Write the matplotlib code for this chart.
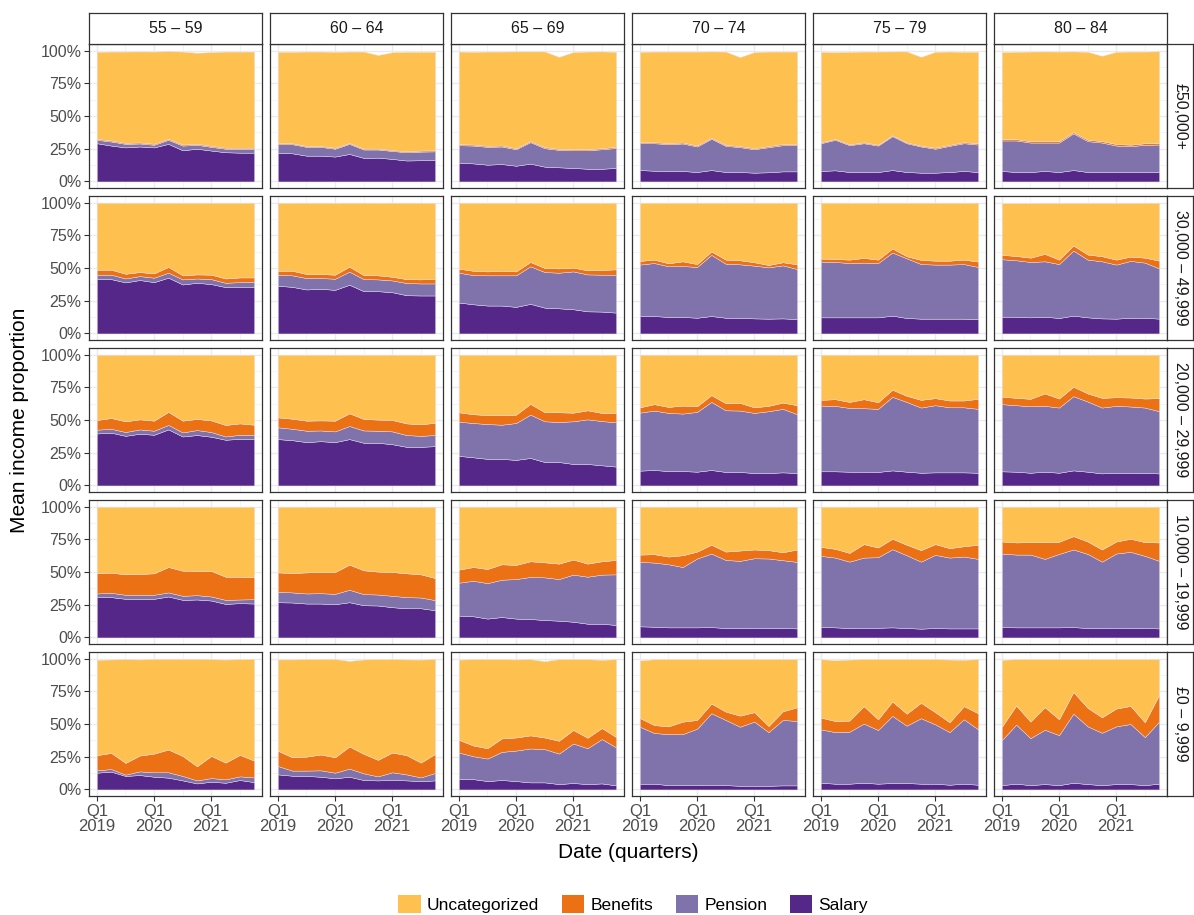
import matplotlib.pyplot as plt
from matplotlib.patches import Patch
import numpy as np

plt.rcParams['font.family'] = ['Liberation Sans', 'DejaVu Sans']

quarters = np.arange(12)
tick_pos = [0, 4, 8]
tick_labels = ['Q1\n2019', 'Q1\n2020', 'Q1\n2021']
age_groups = ['55 – 59', '60 – 64', '65 – 69', '70 – 74', '75 – 79', '80 – 84']
income_bands = ['£50,000+', '30,000 – 49,999', '20,000 – 29,999',
                '10,000 – 19,999', '£0 – 9,999']
series_names = ['Uncategorized', 'Benefits', 'Pension', 'Salary']
colors = {'Uncategorized': '#FEC150', 'Benefits': '#EC7014',
          'Pension': '#8073AC', 'Salary': '#542788'}

# cumulative stack levels (%), one list per age group
# --- £50,000+ ---
salary_top_50k = [
    [29.2, 27.4, 26.0, 26.7, 26.0, 28.7, 23.8, 25.0, 23.6, 22.3, 22.0, 22.0],
    [22.0, 21.5, 19.7, 19.7, 19.0, 21.0, 18.0, 18.2, 17.2, 16.0, 16.2, 16.4],
    [14.4, 13.8, 12.8, 13.3, 12.0, 13.6, 11.3, 10.8, 10.3, 9.7, 9.7, 10.3],
    [8.7, 8.2, 8.0, 8.0, 7.2, 8.7, 7.2, 7.2, 6.7, 7.0, 7.7, 7.7],
    [8.0, 8.5, 7.2, 7.2, 7.2, 8.7, 7.2, 6.7, 6.7, 7.2, 8.0, 7.2],
    [8.0, 7.2, 7.2, 8.0, 7.2, 8.7, 7.2, 7.2, 7.2, 7.2, 7.2, 7.2],
]
pension_top_50k = [
    [31.8, 30.5, 28.7, 29.0, 28.0, 31.8, 27.4, 28.0, 26.4, 25.0, 25.0, 25.0],
    [28.5, 28.5, 26.4, 26.4, 25.0, 28.7, 24.4, 24.4, 23.3, 22.3, 22.8, 23.0],
    [27.7, 27.4, 26.4, 26.7, 24.6, 30.0, 25.4, 24.1, 23.8, 23.8, 24.6, 25.6],
    [29.2, 29.2, 28.5, 29.0, 26.7, 32.6, 27.2, 26.2, 24.6, 26.2, 27.7, 27.7],
    [29.2, 31.8, 27.7, 29.2, 27.4, 34.6, 29.2, 26.7, 25.0, 27.2, 29.2, 28.2],
    [31.3, 31.3, 29.7, 29.7, 29.7, 36.7, 30.8, 29.7, 27.4, 26.9, 28.0, 28.2],
]
benefits_top_50k = [
    [32.6, 31.3, 29.5, 29.8, 28.8, 32.6, 28.2, 28.8, 27.2, 25.8, 25.8, 25.8],
    [29.2, 29.2, 27.1, 27.1, 25.7, 29.4, 25.1, 25.1, 24.0, 23.0, 23.6, 23.8],
    [28.5, 28.2, 27.2, 27.5, 25.4, 30.8, 26.2, 24.9, 24.6, 24.6, 25.4, 26.5],
    [30.0, 30.0, 29.3, 29.8, 27.5, 33.4, 28.0, 27.0, 25.4, 27.0, 28.6, 28.7],
    [29.9, 32.5, 28.4, 29.9, 28.1, 35.3, 29.9, 27.4, 25.8, 28.0, 30.0, 29.1],
    [32.2, 32.3, 30.7, 30.8, 30.8, 37.7, 31.9, 30.8, 28.6, 28.1, 29.2, 29.4],
]
total_50k = [
    [99.0, 99.2, 99.2, 99.3, 99.2, 99.5, 99.2, 98.3, 98.8, 99.2, 99.2, 99.2],
    [99.0, 99.0, 99.2, 99.2, 99.0, 99.2, 99.2, 96.6, 98.7, 99.0, 99.0, 99.0],
    [99.2, 99.0, 99.2, 99.2, 99.3, 99.3, 99.3, 95.2, 98.8, 99.2, 99.3, 99.0],
    [99.0, 99.2, 99.2, 99.2, 99.2, 99.3, 99.2, 95.0, 98.8, 99.2, 99.2, 99.2],
    [99.0, 98.8, 99.0, 99.2, 99.2, 99.3, 99.3, 95.2, 99.0, 99.2, 99.0, 99.0],
    [98.8, 99.0, 99.2, 99.3, 99.2, 99.3, 99.0, 96.0, 99.0, 99.2, 99.2, 99.4],
]

# --- 30,000 - 49,999 ---
salary_top_30k = [
    [41.8, 41.5, 39.0, 40.8, 39.2, 42.6, 37.4, 38.7, 37.7, 35.4, 35.4, 35.4],
    [36.4, 35.6, 33.6, 34.1, 33.3, 37.2, 32.3, 32.3, 31.5, 29.2, 29.0, 29.0],
    [23.6, 22.3, 21.3, 21.3, 20.3, 22.6, 19.7, 19.2, 18.5, 16.9, 16.7, 15.9],
    [13.6, 13.3, 12.6, 12.6, 12.0, 13.3, 12.0, 12.0, 11.5, 11.3, 11.5, 11.0],
    [12.3, 12.3, 12.3, 12.3, 12.3, 13.6, 11.8, 11.3, 11.3, 11.3, 11.3, 11.0],
    [12.8, 12.8, 12.3, 12.8, 11.8, 13.6, 12.3, 11.5, 11.3, 12.0, 12.0, 11.3],
]
pension_top_30k = [
    [44.9, 44.9, 42.0, 43.8, 42.6, 46.4, 41.3, 42.0, 41.5, 38.7, 39.2, 39.5],
    [44.9, 44.4, 42.3, 42.3, 41.8, 47.2, 41.5, 41.3, 40.5, 38.5, 38.2, 38.2],
    [46.4, 44.6, 44.4, 44.4, 44.4, 51.3, 46.9, 46.4, 47.4, 45.1, 44.9, 44.9],
    [52.6, 53.8, 51.3, 51.5, 50.8, 60.0, 53.3, 52.8, 51.8, 50.5, 52.0, 49.2],
    [54.9, 54.6, 53.8, 54.1, 53.8, 61.8, 57.4, 53.0, 52.6, 52.6, 53.0, 50.8],
    [56.7, 55.9, 54.6, 55.1, 53.0, 63.3, 56.4, 55.1, 52.6, 55.4, 54.1, 49.7],
]
benefits_top_30k = [
    [48.7, 48.7, 45.6, 46.9, 45.9, 50.8, 44.4, 45.1, 44.9, 42.0, 42.8, 42.8],
    [47.9, 47.9, 45.4, 45.4, 44.9, 51.0, 44.6, 44.4, 43.3, 41.5, 41.3, 41.8],
    [49.5, 47.9, 47.4, 47.9, 47.4, 54.6, 50.0, 49.7, 50.3, 48.2, 48.5, 49.0],
    [55.4, 56.4, 53.6, 55.1, 53.0, 62.6, 56.4, 55.9, 54.4, 52.3, 54.4, 52.8],
    [57.2, 56.9, 56.4, 57.7, 56.4, 64.9, 59.0, 56.2, 55.6, 55.6, 56.4, 54.9],
    [60.0, 59.2, 57.9, 60.8, 56.4, 67.2, 60.3, 59.0, 56.4, 58.7, 57.9, 55.6],
]
total_30k = [
    [99.8, 99.8, 99.8, 99.8, 99.8, 99.8, 99.8, 99.8, 99.8, 99.8, 99.8, 99.8],
    [99.7, 99.7, 99.8, 99.8, 99.7, 99.8, 99.8, 99.7, 99.8, 99.8, 99.7, 99.7],
    [99.8, 99.8, 99.8, 99.8, 99.8, 99.8, 99.7, 99.8, 99.8, 99.8, 99.8, 99.8],
    [99.7, 99.8, 99.8, 99.8, 99.8, 99.8, 99.8, 99.8, 99.7, 99.8, 99.8, 99.8],
    [99.8, 99.8, 99.8, 99.8, 99.8, 99.8, 99.8, 99.8, 99.8, 99.8, 99.8, 99.8],
    [99.4, 99.5, 99.5, 99.6, 99.6, 99.6, 99.6, 99.6, 99.6, 99.6, 99.7, 99.7],
]

# --- 20,000 - 29,999 ---
salary_top_20k = [
    [39.7, 40.3, 37.9, 39.5, 38.7, 42.8, 37.4, 38.5, 37.2, 34.9, 35.6, 35.6],
    [35.4, 34.6, 33.1, 33.8, 33.1, 35.4, 32.6, 32.6, 31.5, 29.5, 29.5, 30.0],
    [22.6, 21.5, 20.3, 20.3, 19.5, 21.0, 17.9, 17.9, 16.4, 16.4, 15.4, 14.4],
    [11.3, 11.8, 11.0, 11.0, 10.5, 11.8, 10.3, 10.3, 9.5, 9.5, 10.0, 9.5],
    [10.8, 10.8, 10.5, 10.5, 10.3, 11.5, 10.5, 9.7, 10.0, 10.0, 10.0, 9.7],
    [10.8, 10.5, 9.7, 10.5, 9.7, 11.5, 10.5, 9.2, 9.7, 9.7, 9.5, 9.2],
]
pension_top_20k = [
    [42.6, 43.3, 40.8, 42.8, 41.8, 46.2, 40.5, 42.3, 40.8, 37.4, 38.7, 38.7],
    [44.4, 43.3, 41.8, 42.0, 41.3, 45.4, 42.0, 41.8, 41.3, 38.5, 37.9, 38.5],
    [48.7, 47.7, 46.9, 46.4, 47.7, 54.1, 49.0, 48.5, 49.0, 50.5, 49.2, 48.2],
    [55.6, 57.2, 55.4, 54.9, 56.2, 63.8, 57.4, 57.2, 55.4, 56.7, 58.5, 54.4],
    [61.0, 60.8, 59.2, 59.0, 58.5, 67.7, 63.8, 59.5, 61.3, 59.7, 59.7, 58.5],
    [62.1, 61.3, 60.5, 60.8, 59.5, 68.2, 64.1, 59.5, 60.8, 60.3, 59.5, 56.7],
]
benefits_top_20k = [
    [50.0, 51.5, 49.0, 50.5, 49.5, 56.2, 49.5, 50.8, 49.7, 46.2, 47.4, 46.4],
    [52.0, 51.0, 49.5, 49.7, 49.5, 55.1, 50.8, 50.3, 50.0, 47.4, 46.7, 47.9],
    [55.9, 54.4, 53.8, 53.6, 54.1, 62.3, 55.9, 55.9, 55.6, 57.4, 55.4, 55.4],
    [59.7, 62.1, 60.0, 61.0, 60.5, 69.0, 62.8, 63.1, 59.7, 60.8, 63.3, 61.3],
    [65.4, 65.9, 63.8, 65.9, 63.6, 73.1, 68.5, 65.4, 66.7, 64.9, 64.9, 66.2],
    [67.9, 66.9, 66.2, 70.3, 66.4, 75.4, 70.3, 66.9, 67.4, 67.2, 66.4, 66.7],
]
total_20k = [
    [99.8, 99.8, 99.8, 99.8, 99.8, 99.8, 99.8, 99.8, 99.8, 99.8, 99.8, 99.8],
    [99.8, 99.8, 99.8, 99.8, 99.8, 99.8, 99.8, 99.8, 99.8, 99.8, 99.8, 99.8],
    [99.8, 99.8, 99.8, 99.8, 99.8, 99.8, 99.8, 99.8, 99.8, 99.8, 99.8, 99.8],
    [99.8, 99.8, 99.8, 99.8, 99.8, 99.8, 99.8, 99.8, 99.8, 99.8, 99.8, 99.8],
    [99.8, 99.8, 99.8, 99.8, 99.8, 99.8, 99.8, 99.8, 99.8, 99.8, 99.8, 99.8],
    [99.8, 99.8, 99.8, 99.8, 99.8, 99.8, 99.8, 99.8, 99.8, 99.8, 99.8, 99.8],
]

# --- 10,000 - 19,999 ---
salary_top_10k = [
    [30.8, 30.8, 29.5, 29.5, 29.5, 31.3, 28.7, 29.0, 28.2, 25.6, 26.2, 25.9],
    [26.9, 26.7, 25.9, 25.9, 25.4, 26.9, 24.6, 24.4, 23.1, 22.3, 22.3, 20.8],
    [16.7, 16.2, 14.4, 15.6, 14.4, 14.1, 13.3, 12.8, 12.0, 10.5, 10.5, 9.5],
    [8.5, 8.2, 7.7, 7.7, 7.7, 7.9, 7.2, 7.2, 7.4, 7.2, 7.2, 6.9],
    [8.2, 7.7, 7.2, 7.4, 7.4, 7.7, 7.2, 6.7, 7.2, 6.9, 6.9, 6.9],
    [7.9, 7.7, 7.7, 7.7, 7.7, 7.9, 7.2, 7.2, 7.4, 7.2, 7.2, 6.9],
]
pension_top_10k = [
    [33.6, 34.1, 32.6, 32.6, 32.6, 34.4, 31.8, 32.3, 31.3, 28.7, 29.0, 29.2],
    [34.9, 34.4, 33.6, 33.8, 33.3, 36.4, 33.1, 32.8, 31.8, 30.8, 30.5, 28.5],
    [41.8, 43.3, 41.5, 44.1, 44.6, 46.2, 45.9, 44.6, 48.0, 46.4, 48.0, 48.2],
    [57.7, 57.2, 55.9, 53.8, 60.3, 64.1, 59.2, 58.5, 60.5, 60.3, 59.0, 57.7],
    [62.3, 61.0, 57.9, 61.0, 61.3, 67.4, 62.8, 57.9, 63.1, 61.0, 61.8, 60.0],
    [64.1, 63.3, 63.3, 60.0, 63.8, 67.2, 63.8, 57.9, 64.1, 65.4, 62.3, 58.5],
]
benefits_top_10k = [
    [49.2, 49.5, 48.2, 48.5, 49.0, 53.8, 51.0, 50.8, 50.8, 46.4, 46.4, 45.9],
    [49.7, 49.2, 49.7, 50.0, 50.0, 55.6, 51.3, 50.3, 50.0, 49.0, 48.2, 45.4],
    [51.8, 53.8, 52.3, 55.9, 55.4, 58.2, 57.4, 56.4, 59.5, 56.4, 58.2, 59.2],
    [63.3, 63.6, 61.8, 62.8, 65.6, 70.8, 65.6, 66.4, 67.2, 66.7, 65.1, 67.2],
    [69.2, 67.7, 64.6, 71.3, 68.7, 75.4, 70.8, 66.7, 71.3, 68.2, 69.7, 70.8],
    [73.3, 72.6, 72.8, 72.8, 73.1, 77.4, 73.3, 67.2, 73.3, 75.4, 72.8, 72.6],
]
total_10k = [
    [99.8, 99.8, 99.8, 99.8, 99.8, 99.8, 99.8, 99.8, 99.8, 99.8, 99.8, 99.8],
    [99.8, 99.8, 99.8, 99.8, 99.8, 99.8, 99.8, 99.8, 99.8, 99.8, 99.8, 99.8],
    [99.8, 99.8, 99.8, 99.8, 99.8, 99.8, 99.8, 99.8, 99.8, 99.8, 99.8, 99.8],
    [99.8, 99.8, 99.8, 99.8, 99.8, 99.8, 99.8, 99.8, 99.8, 99.8, 99.8, 99.8],
    [99.8, 99.8, 99.8, 99.8, 99.8, 99.8, 99.8, 99.8, 99.8, 99.8, 99.8, 99.8],
    [99.8, 99.8, 99.8, 99.8, 99.8, 99.8, 99.8, 99.8, 99.8, 99.8, 99.8, 99.8],
]

# --- £0 - 9,999 ---
salary_top_0 = [
    [12.8, 13.6, 10.3, 11.0, 9.7, 9.0, 6.9, 4.6, 5.9, 5.1, 7.2, 5.6],
    [11.5, 10.5, 10.3, 9.7, 8.5, 9.7, 7.2, 6.9, 7.4, 6.9, 6.4, 6.9],
    [8.2, 7.9, 6.4, 7.2, 6.4, 5.4, 5.4, 4.1, 4.9, 4.1, 4.6, 3.1],
    [4.4, 4.4, 3.3, 3.3, 3.3, 3.6, 3.3, 2.8, 2.8, 2.8, 3.1, 3.1],
    [5.1, 4.4, 4.4, 5.1, 4.4, 4.9, 4.9, 4.4, 4.4, 3.6, 4.4, 3.6],
    [3.3, 4.4, 3.3, 4.1, 3.3, 5.1, 4.1, 3.3, 4.1, 4.1, 3.3, 4.4],
]
pension_top_0 = [
    [14.6, 15.6, 11.3, 13.8, 13.1, 13.1, 10.3, 6.9, 8.7, 7.7, 10.0, 9.2],
    [17.9, 14.4, 14.4, 14.6, 12.8, 15.9, 12.3, 10.0, 13.1, 11.5, 9.2, 12.6],
    [28.2, 25.4, 23.6, 28.7, 29.7, 31.3, 30.8, 27.4, 35.1, 31.5, 38.5, 32.1],
    [47.9, 43.1, 42.3, 42.3, 46.4, 58.2, 53.1, 47.9, 51.8, 43.8, 53.1, 52.3],
    [45.9, 43.8, 44.1, 50.3, 45.4, 56.2, 48.7, 54.4, 49.7, 43.8, 53.6, 45.9],
    [37.7, 49.5, 39.2, 45.6, 41.5, 57.9, 48.2, 43.3, 48.2, 50.0, 40.0, 51.8],
]
benefits_top_0 = [
    [26.2, 27.9, 20.3, 25.9, 27.4, 30.5, 25.6, 17.7, 25.6, 20.5, 26.4, 22.0],
    [29.5, 24.6, 25.1, 26.7, 24.6, 32.8, 27.2, 22.6, 28.2, 26.2, 20.5, 27.2],
    [37.9, 33.6, 31.5, 39.0, 39.7, 41.3, 39.7, 37.2, 45.4, 39.5, 46.9, 40.0],
    [54.6, 49.2, 48.2, 51.8, 53.1, 65.6, 59.5, 56.4, 59.0, 48.5, 59.7, 62.8],
    [54.9, 52.3, 52.6, 63.6, 53.6, 67.2, 57.9, 66.2, 59.0, 51.3, 63.6, 58.2],
    [47.9, 64.1, 51.8, 62.8, 53.6, 74.4, 62.3, 55.1, 61.8, 63.8, 51.3, 72.3],
]
total_0 = [
    [99.0, 99.3, 99.5, 99.3, 99.6, 99.6, 99.6, 99.6, 99.5, 99.2, 99.5, 99.6],
    [99.3, 99.3, 99.5, 99.5, 99.6, 98.2, 99.3, 99.5, 99.5, 99.3, 99.2, 99.6],
    [99.2, 99.5, 99.5, 99.5, 99.3, 99.5, 98.0, 99.5, 99.5, 99.5, 99.0, 99.5],
    [98.5, 99.5, 99.5, 99.5, 99.5, 99.5, 99.5, 99.5, 99.5, 99.5, 99.5, 99.5],
    [99.5, 98.7, 99.2, 99.5, 99.5, 99.5, 99.5, 99.5, 99.5, 99.2, 99.0, 99.5],
    [99.0, 99.5, 99.5, 99.5, 99.5, 99.5, 99.5, 99.5, 99.5, 99.5, 99.5, 99.5],
]

band_data = [
    (salary_top_50k, pension_top_50k, benefits_top_50k, total_50k),
    (salary_top_30k, pension_top_30k, benefits_top_30k, total_30k),
    (salary_top_20k, pension_top_20k, benefits_top_20k, total_20k),
    (salary_top_10k, pension_top_10k, benefits_top_10k, total_10k),
    (salary_top_0, pension_top_0, benefits_top_0, total_0),
]

W, H = 1194, 915
fig = plt.figure(figsize=(W / 100, H / 100), dpi=100)


def px_axes(x0, y0, w, h, **kw):
    return fig.add_axes([x0 / W, 1 - (y0 + h) / H, w / W, h / H], **kw)


col_left = [89 + 181 * c for c in range(6)]
panel_w = 173
row_top = [44 + 152 * r for r in range(5)]
panel_h = 144
edge = '#333333'

for r, (sal, pen, ben, tot) in enumerate(band_data):
    for c in range(6):
        ax = px_axes(col_left[c], row_top[r], panel_w, panel_h)
        s = np.array(sal[c])
        p = np.array(pen[c])
        b = np.array(ben[c])
        t = np.array(tot[c])
        ax.stackplot(quarters, s, p - s, b - p, t - b,
                     colors=[colors['Salary'], colors['Pension'],
                             colors['Benefits'], colors['Uncategorized']],
                     edgecolor='#E6E1F0', linewidth=0.3, zorder=3)
        ax.set_xlim(-0.55, 11.55)
        ax.set_ylim(-5, 105)
        ax.set_xticks(tick_pos)
        ax.set_xticks([2, 6, 10], minor=True)
        ax.set_yticks([0, 25, 50, 75, 100])
        ax.set_yticks([12.5, 37.5, 62.5, 87.5], minor=True)
        ax.grid(True, which='major', color='#EBEBEB', linewidth=1.0, zorder=0)
        ax.grid(True, which='minor', color='#F3F3F3', linewidth=0.6, zorder=0)
        ax.set_axisbelow(True)
        for sp in ax.spines.values():
            sp.set_color(edge)
            sp.set_linewidth(0.9)
        ax.tick_params(which='minor', length=0)
        ax.tick_params(which='major', length=3.5, width=0.8, color=edge,
                       labelcolor='#4D4D4D', labelsize=11.5, pad=2)
        if c == 0:
            ax.set_yticklabels(['0%', '25%', '50%', '75%', '100%'])
        else:
            ax.tick_params(axis='y', length=0, labelleft=False)
        if r == 4:
            ax.set_xticklabels(tick_labels, linespacing=1.05, fontsize=12)
        else:
            ax.tick_params(axis='x', length=0, labelbottom=False)

        if r == 0:
            sax = px_axes(col_left[c], 13, panel_w, 31)
            sax.set_xticks([])
            sax.set_yticks([])
            for sp in sax.spines.values():
                sp.set_color(edge)
                sp.set_linewidth(0.9)
            sax.text(0.5, 0.5, age_groups[c], ha='center', va='center',
                     fontsize=11.5, color='#1A1A1A', transform=sax.transAxes)
    # right strip
    rax = px_axes(1167, row_top[r], 26, panel_h)
    rax.set_xticks([])
    rax.set_yticks([])
    for sp in rax.spines.values():
        sp.set_color(edge)
        sp.set_linewidth(0.9)
    rax.text(0.5, 0.5, income_bands[r], ha='center', va='center', rotation=-90,
             fontsize=11.5, color='#1A1A1A', transform=rax.transAxes)

fig.text(20 / W, 1 - 420 / H, 'Mean income proportion', rotation=90,
         ha='center', va='center', fontsize=15, color='black')
fig.text(628 / W, 1 - 852 / H, 'Date (quarters)', ha='center', va='center',
         fontsize=15, color='black')

handles = [Patch(facecolor=colors[n], edgecolor='none') for n in series_names]
fig.legend(handles, series_names, loc='center', ncol=4,
           bbox_to_anchor=(633 / W, 1 - 904 / H), frameon=False,
           fontsize=12.5, handlelength=1.3, handleheight=1.3,
           handletextpad=0.35, columnspacing=1.3)

fig.savefig('out.png', dpi=100)
